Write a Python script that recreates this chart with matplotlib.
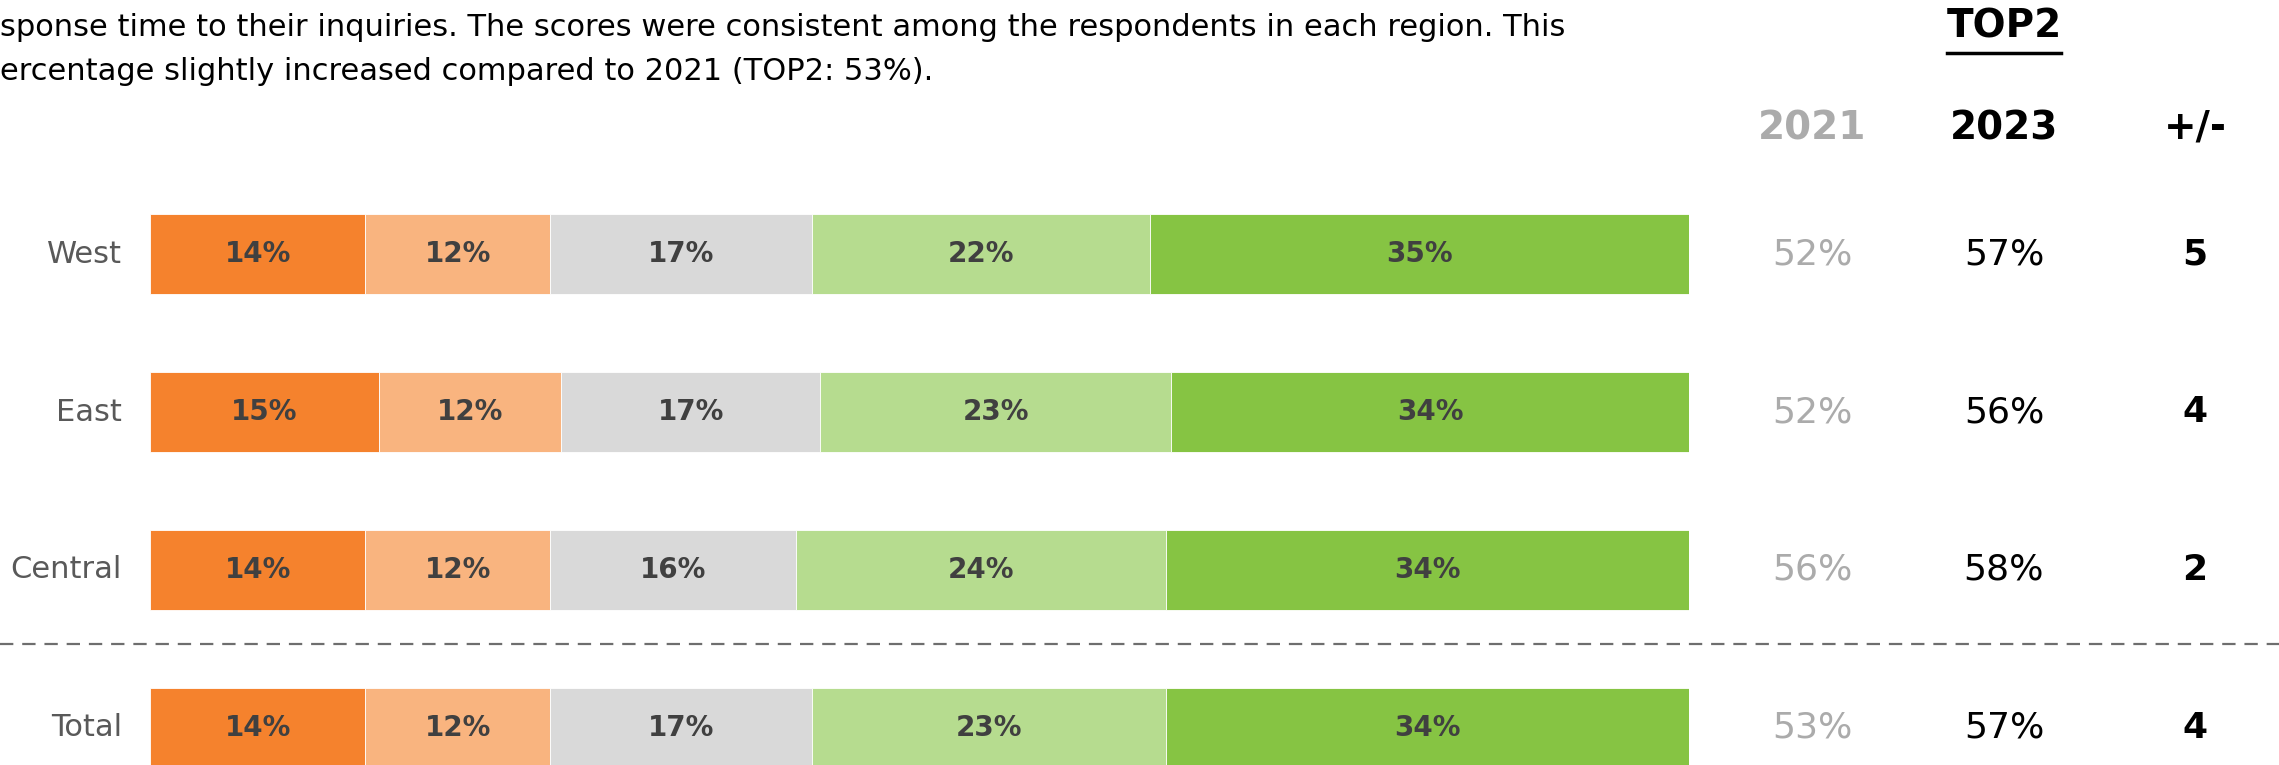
import numpy as np
import matplotlib
matplotlib.use("Agg")
import matplotlib.pyplot as plt

# data
regions = ["West", "East", "Central", "Total"]
shares = {
    "very low": [14, 15, 14, 14],
    "low": [12, 12, 12, 12],
    "neutral": [17, 17, 16, 17],
    "high": [22, 23, 24, 23],
    "very high": [35, 34, 34, 34],
}
top2_2021 = [52, 52, 56, 53]
top2_2023 = [57, 56, 58, 57]
top2_diff = [5, 4, 2, 4]

intro_lines = [
    "sponse time to their inquiries. The scores were consistent among the respondents in each region. This",
    "ercentage slightly increased compared to 2021 (TOP2: 53%).",
]

seg_colors = ["#F5822D", "#F9B47F", "#D9D9D9", "#B6DC8F", "#86C443"]
label_color = "#404040"
cat_color = "#595959"
old_color = "#ABABAB"

W, H = 2279, 765
fig = plt.figure(figsize=(W / 100, H / 100), dpi=100)
plt.rcParams['font.family'] = ['DejaVu Sans']

# bar axes: x in percent, y in row index
left_px, right_px = 150, 1689
ax = fig.add_axes([left_px / W, 0, (right_px - left_px) / W, 1])
row_gap = 158.0
first_row = 254.0
ax.set_ylim((H - first_row) / row_gap, -first_row / row_gap)
ax.set_xlim(0, 100)
ax.axis("off")

vals = np.array(list(shares.values()), dtype=float)
vals = vals / vals.sum(axis=0) * 100  # rows that add up to 101 are squeezed back to full width
y = np.arange(len(regions))
left = np.zeros(len(regions))
for k, name in enumerate(shares):
    ax.barh(y, vals[k], left=left, height=0.51, color=seg_colors[k],
            edgecolor="white", linewidth=0.6)
    for i in range(len(regions)):
        ax.text(left[i] + vals[k][i] / 2, y[i], "%d%%" % shares[name][i],
                ha="center", va="center", fontsize=20, fontweight="bold",
                color=label_color)
    left = left + vals[k]

# category labels and TOP2 columns, x given in figure fraction
tr = matplotlib.transforms.blended_transform_factory(fig.transFigure, ax.transData)
for i, r in enumerate(regions):
    ax.text(122 / W, y[i], r, transform=tr, ha="right", va="center",
            fontsize=22, color=cat_color)
    ax.text(1812 / W, y[i], "%d%%" % top2_2021[i], transform=tr, ha="center",
            va="center", fontsize=26, color=old_color)
    ax.text(2004 / W, y[i], "%d%%" % top2_2023[i], transform=tr, ha="center",
            va="center", fontsize=26, color="black")
    ax.text(2195 / W, y[i], "%d" % top2_diff[i], transform=tr, ha="center",
            va="center", fontsize=26, fontweight="bold", color="black")

# dashed separator before the total row
sep_y = (644 - first_row) / row_gap
ax.plot([0, 1], [sep_y, sep_y], transform=tr, color="#6E6E6E", lw=1.6,
        linestyle=(0, (6, 4)), clip_on=False)

# headers
fig.text(1812 / W, 1 - 128 / H, "2021", ha="center", va="center",
         fontsize=28, fontweight="bold", color=old_color)
fig.text(2004 / W, 1 - 128 / H, "2023", ha="center", va="center",
         fontsize=28, fontweight="bold", color="black")
fig.text(2195 / W, 1 - 128 / H, "+/-", ha="center", va="center",
         fontsize=28, fontweight="bold", color="black")
fig.text(2004 / W, 1 - 27 / H, "TOP2", ha="center", va="center",
         fontsize=28, fontweight="bold", color="black")
fig.add_artist(plt.Line2D([1947 / W, 2061 / W], [1 - 53 / H, 1 - 53 / H],
                          color="black", lw=2.5))

# intro text, cut off on the left like the slide
for j, line in enumerate(intro_lines):
    fig.text(0, 1 - (27 + 44 * j) / H, line, ha="left", va="center",
             fontsize=22, color="black")

fig.savefig("out.png", dpi=100)
